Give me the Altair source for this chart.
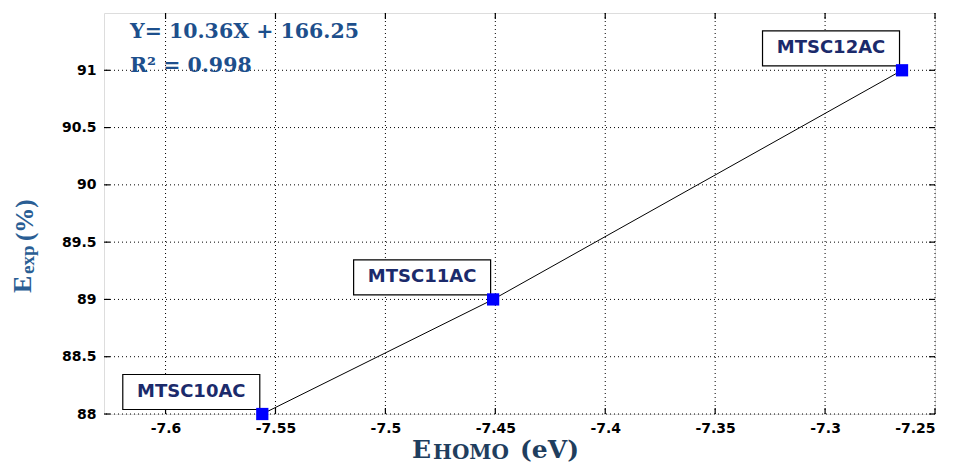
import altair as alt
import pandas as pd

labels = ["MTSC10AC", "MTSC11AC", "MTSC12AC"]
e_homo = [-7.556, -7.451, -7.265]
e_exp = [88.0, 89.0, 91.0]

x_ticks = [-7.6, -7.55, -7.5, -7.45, -7.4, -7.35, -7.3, -7.25]
y_ticks = [88, 88.5, 89, 89.5, 90, 90.5, 91]
x_domain = [-7.628, -7.25]
y_domain = [88, 91.5]

equation = "Y= 10.36X + 166.25"
r2 = "R² = 0.998"

W, H = 831, 401

pts = pd.DataFrame({"x": e_homo, "y": e_exp, "label": labels})
xt = pd.DataFrame({"v": x_ticks})
yt = pd.DataFrame({"v": y_ticks})

xs = alt.Scale(domain=x_domain, nice=False, zero=False)
ys = alt.Scale(domain=y_domain, nice=False, zero=False)

X = alt.X("x:Q", scale=xs, title=None,
          axis=alt.Axis(values=x_ticks, labelExpr="datum.value + ''", grid=False, ticks=False, domain=False,
                        labelFont="DejaVu Sans", labelFontWeight="bold", labelFontSize=14,
                        labelColor="black", labelPadding=7))
Y = alt.Y("y:Q", scale=ys, title=None,
          axis=alt.Axis(values=y_ticks, labelExpr="datum.value + ''", grid=False, ticks=False, domain=False,
                        labelFont="DejaVu Sans", labelFontWeight="bold", labelFontSize=14,
                        labelColor="black", labelPadding=8))

# dotted grid
vgrid = alt.Chart(xt).mark_rule(color="black", strokeDash=[1, 3], strokeWidth=1).encode(
    x=alt.X("v:Q", scale=xs))
hgrid = alt.Chart(yt).mark_rule(color="black", strokeDash=[1, 3], strokeWidth=1).encode(
    y=alt.Y("v:Q", scale=ys))

# inward ticks
tb = alt.Chart(xt).mark_rule(color="black", strokeWidth=1.2).encode(
    x=alt.X("v:Q", scale=xs), y=alt.value(H), y2=alt.value(H - 6))
tt = alt.Chart(xt).mark_rule(color="black", strokeWidth=1.2).encode(
    x=alt.X("v:Q", scale=xs), y=alt.value(0), y2=alt.value(6))
tl = alt.Chart(yt).mark_rule(color="black", strokeWidth=1.2).encode(
    y=alt.Y("v:Q", scale=ys), x=alt.value(0), x2=alt.value(6))
tr = alt.Chart(yt).mark_rule(color="black", strokeWidth=1.2).encode(
    y=alt.Y("v:Q", scale=ys), x=alt.value(W), x2=alt.value(W - 6))

base = alt.Chart(pts)
line = base.mark_line(color="black", strokeWidth=1).encode(x=X, y=Y)
boxes = base.mark_rect(fill="white", stroke="black", strokeWidth=1.2, width=137, height=35,
                       xOffset=-71, yOffset=-22).encode(x=alt.X("x:Q", scale=xs), y=alt.Y("y:Q", scale=ys))
texts = base.mark_text(font="DejaVu Sans", fontWeight="bold", fontSize=18, color="#1b2a6b",
                       dx=-71, dy=-22, align="center", baseline="middle").encode(
    x=alt.X("x:Q", scale=xs), y=alt.Y("y:Q", scale=ys), text="label:N")
points = base.mark_square(color="#0000ff", opacity=1, size=150).encode(
    x=alt.X("x:Q", scale=xs), y=alt.Y("y:Q", scale=ys))

def txt(s, x, y, size, color, angle=0, font="DejaVu Serif"):
    return alt.Chart(pd.DataFrame({"t": [s]})).mark_text(
        font=font, fontWeight="bold", fontSize=size, color=color, align="left",
        baseline="alphabetic", angle=angle).encode(
        x=alt.value(x), y=alt.value(y), text="t:N")

eq1 = txt(equation, 26, 25, 20.5, "#1d4f8c")
eq2 = txt(r2, 26, 59, 20.5, "#1d4f8c")

xt_color = "#1f3e5e"
xE = txt("E", 308, 445, 25, xt_color)
xH = txt("HOMO", 329, 446, 20, xt_color)
xV = txt("(eV)", 416, 445, 25, xt_color)

yt_color = "#2a5e94"
yE = txt("E", -73, 280, 26, yt_color, angle=270, font="Liberation Serif")
yX = txt("exp", -70, 261, 19, yt_color, angle=270, font="Liberation Serif")
yP = txt("(%)", -71, 228, 25, yt_color, angle=270, font="Liberation Serif")

chart = alt.layer(
    vgrid, hgrid, tb, tt, tl, tr, line, boxes, texts, points,
    eq1, eq2, xE, xH, xV, yE, yX, yP
).properties(
    width=W, height=H,
    autosize=alt.AutoSizeParams(type="none"),
    padding={"left": 96, "top": 5, "right": 10, "bottom": 50},
).configure_view(stroke="black", strokeWidth=1.5).configure(background="white")

chart.save("out.html", embed_options={"renderer": "svg", "actions": False})
